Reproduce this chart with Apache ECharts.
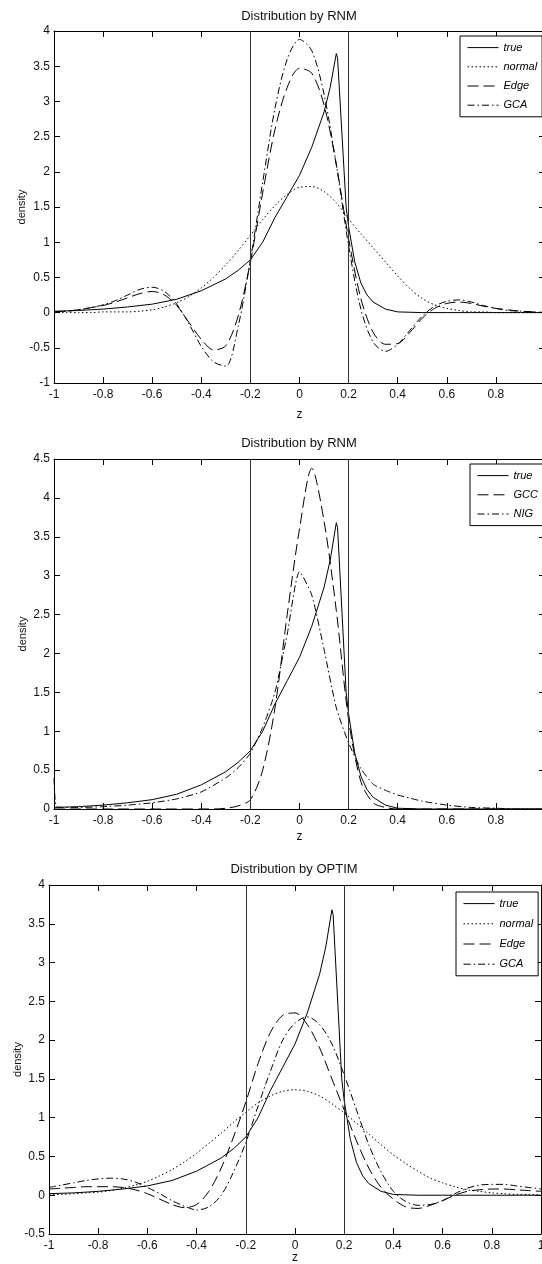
<!DOCTYPE html>
<html>
<head>
<meta charset="utf-8">
<script src="https://cdn.jsdelivr.net/npm/echarts@6/dist/echarts.min.js"></script>
<style>
html,body{margin:0;padding:0;background:#fff;}
#chart{width:542px;height:1264px;}
</style>
</head>
<body>
<div id="chart"></div>
<script>
// ---------- data ----------
const titles = ['Distribution by RNM', 'Distribution by RNM', 'Distribution by OPTIM'];
const vLines = [-0.2, 0.2];

const zGrid = [-1, -0.95, -0.9, -0.85, -0.8, -0.75, -0.7, -0.65, -0.6, -0.55, -0.5, -0.45, -0.4, -0.35, -0.3, -0.25, -0.2, -0.15, -0.1, -0.05, 0,
  0.05, 0.1, 0.15, 0.2, 0.25, 0.3, 0.35, 0.4, 0.45, 0.5, 0.55, 0.6, 0.65, 0.7, 0.75, 0.8, 0.85, 0.9, 0.95, 1];

const zTrue = [-1, -0.9, -0.8, -0.7, -0.6, -0.5, -0.4, -0.3, -0.25, -0.2, -0.15, -0.1, -0.05, 0, 0.05, 0.1, 0.125, 0.15, 0.155,
  0.19, 0.2, 0.225, 0.25, 0.275, 0.3, 0.35, 0.4, 0.5, 0.6, 0.7, 0.8, 0.9, 1];
const trueDensity = [0.02, 0.03, 0.05, 0.08, 0.12, 0.19, 0.31, 0.48, 0.6, 0.75, 1.0, 1.35, 1.65, 1.95, 2.35, 2.85, 3.2, 3.68, 3.62,
  1.5, 1.22, 0.72, 0.42, 0.25, 0.15, 0.05, 0.01, 0, 0, 0, 0, 0, 0];

// plot 1 (RNM)
const rnmNormal = [0, 0, 0, 0, 0.01, 0.01, 0.01, 0.02, 0.04, 0.08, 0.14, 0.23, 0.35, 0.5, 0.68, 0.88, 1.1, 1.32, 1.52, 1.68, 1.78,
  1.79, 1.72, 1.56, 1.33, 1.12, 0.92, 0.72, 0.52, 0.34, 0.2, 0.11, 0.06, 0.03, 0.01, 0.01, 0, 0, 0, 0, 0];
const rnmEdge = [0.01, 0.02, 0.04, 0.07, 0.1, 0.15, 0.21, 0.27, 0.3, 0.25, 0.1, -0.14, -0.38, -0.53, -0.47, -0.05, 0.72, 1.7, 2.6, 3.2, 3.47,
  3.4, 2.95, 2.1, 1.05, 0.2, -0.28, -0.45, -0.44, -0.28, -0.08, 0.06, 0.13, 0.15, 0.13, 0.09, 0.06, 0.04, 0.02, 0.01, 0];
const rnmGCA = [0.01, 0.02, 0.04, 0.07, 0.11, 0.17, 0.25, 0.33, 0.36, 0.3, 0.12, -0.16, -0.48, -0.7, -0.76, -0.2, 0.75, 1.85, 2.9, 3.6, 3.88,
  3.72, 3.1, 2.1, 0.95, 0.05, -0.42, -0.55, -0.45, -0.25, -0.05, 0.09, 0.16, 0.18, 0.15, 0.1, 0.06, 0.03, 0.02, 0.01, 0];

// plot 2 (RNM)
const rnmGCC = [0, 0, 0, 0, 0, 0, 0, 0, 0, 0, 0, 0, 0, 0, 0.01, 0.04, 0.12, 0.5, 1.3, 2.5, 3.6,
  4.38, 3.7, 2.55, 1.15, 0.35, 0.08, 0.02, 0, 0, 0, 0, 0, 0, 0, 0, 0, 0, 0, 0, 0];
const zNIG = [-1, -0.99, -0.95, -0.9, -0.8, -0.7, -0.6, -0.5, -0.4, -0.3, -0.25, -0.2, -0.15, -0.1, -0.05, 0,
  0.05, 0.1, 0.15, 0.2, 0.25, 0.3, 0.35, 0.4, 0.45, 0.5, 0.6, 0.7, 0.8, 0.9, 1];
const rnmNIG = [0.4, 0.03, 0.02, 0.02, 0.03, 0.05, 0.08, 0.13, 0.22, 0.4, 0.53, 0.72, 1.05, 1.5, 2.25, 3.05,
  2.75, 2.05, 1.3, 0.85, 0.52, 0.32, 0.24, 0.18, 0.14, 0.1, 0.05, 0.02, 0.01, 0, 0];

// plot 3 (OPTIM)
const optNormal = [0.01, 0.01, 0.02, 0.03, 0.04, 0.06, 0.09, 0.13, 0.18, 0.25, 0.33, 0.43, 0.54, 0.67, 0.8, 0.94, 1.07, 1.19, 1.28, 1.34, 1.36,
  1.34, 1.28, 1.18, 1.06, 0.93, 0.79, 0.65, 0.52, 0.41, 0.31, 0.22, 0.16, 0.11, 0.07, 0.05, 0.03, 0.02, 0.01, 0.01, 0];
const optEdge = [0.08, 0.09, 0.1, 0.11, 0.11, 0.11, 0.1, 0.07, 0.02, -0.05, -0.12, -0.16, -0.12, 0.05, 0.35, 0.75, 1.2, 1.7, 2.1, 2.32, 2.35,
  2.2, 1.9, 1.5, 1.1, 0.7, 0.35, 0.1, -0.05, -0.15, -0.17, -0.13, -0.07, 0, 0.05, 0.07, 0.08, 0.08, 0.07, 0.06, 0.05];
const optGCA = [0.1, 0.13, 0.16, 0.19, 0.21, 0.22, 0.21, 0.17, 0.1, 0.02, -0.07, -0.14, -0.19, -0.15, 0, 0.3, 0.68, 1.15, 1.6, 2.0, 2.22,
  2.3, 2.2, 1.95, 1.55, 1.1, 0.65, 0.3, 0.05, -0.08, -0.13, -0.12, -0.07, 0.02, 0.09, 0.13, 0.14, 0.14, 0.12, 0.1, 0.08];

const yRanges = [[-1, 4], [0, 4.5], [-0.5, 4]];

// ---------- styles ----------
const FONT = "'Liberation Sans', Arial, sans-serif";
const DASH = {
  solid: 'solid',
  dotted: [1.5, 2.5],
  dashed: [11, 5],
  dashdot: [7, 3, 1.5, 3]
};

const grids = [
  {left: 54, right: -3, top: 31, height: 352, containLabel: false, outerBoundsMode: 'none'},
  {left: 54, right: -3, top: 459, height: 350, containLabel: false, outerBoundsMode: 'none'},
  {left: 49, right: 1, top: 885, height: 349, containLabel: false, outerBoundsMode: 'none'}
];
const titleTops = [10, 437, 863];
const titleX = [299, 299, 294];
const xNameGap = [26, 22, 18];
const yNameGap = [27, 26, 26];

function pairs(zs, vs) { return zs.map((z, i) => [z, vs[i]]); }

const xAxes = [], yAxes = [], titleOpts = [];
grids.forEach((g, i) => {
  const lineCommon = {show: true, onZero: false, lineStyle: {color: '#000', width: 1}};
  const tickCommon = {show: true, inside: true, length: 6, lineStyle: {color: '#000', width: 1}};
  xAxes.push({
    type: 'value', gridIndex: i, position: 'bottom', min: -1, max: 1, interval: 0.2,
    axisLine: lineCommon, axisTick: tickCommon, splitLine: {show: false},
    axisLabel: {color: '#111', fontSize: 12, fontFamily: FONT, margin: 6},
    name: 'z', nameLocation: 'middle', nameGap: xNameGap[i], nameMoveOverlap: false,
    nameTextStyle: {color: '#111', fontSize: 12, fontFamily: FONT}
  });
  xAxes.push({
    type: 'value', gridIndex: i, position: 'top', min: -1, max: 1, interval: 0.2,
    axisLine: lineCommon, axisTick: tickCommon, splitLine: {show: false}, axisLabel: {show: false}
  });
  yAxes.push({
    type: 'value', gridIndex: i, position: 'left', min: yRanges[i][0], max: yRanges[i][1], interval: 0.5,
    axisLine: lineCommon, axisTick: tickCommon, splitLine: {show: false},
    axisLabel: {color: '#111', fontSize: 12, fontFamily: FONT, margin: 4},
    name: 'density', nameLocation: 'middle', nameGap: yNameGap[i], nameMoveOverlap: false,
    nameTextStyle: {color: '#111', fontSize: 11, fontFamily: FONT}
  });
  yAxes.push({
    type: 'value', gridIndex: i, position: 'right', min: yRanges[i][0], max: yRanges[i][1], interval: 0.5,
    axisLine: lineCommon, axisTick: tickCommon, splitLine: {show: false}, axisLabel: {show: false}
  });
  titleOpts.push({
    text: titles[i], left: titleX[i], top: titleTops[i], textAlign: 'center', padding: 0,
    textStyle: {color: '#111', fontSize: 13, fontWeight: 'normal', fontFamily: FONT}
  });
});

function mkSeries(name, zs, vs, gi, dash, smooth, withLines) {
  const s = {
    name: name, type: 'line', xAxisIndex: gi * 2, yAxisIndex: gi * 2,
    data: pairs(zs, vs), symbol: 'none', showSymbol: false, smooth: smooth,
    lineStyle: {color: '#000', width: 1, type: dash}, itemStyle: {color: '#000'},
    animation: false, silent: true, clip: true
  };
  if (withLines) {
    s.markLine = {
      silent: true, symbol: ['none', 'none'], label: {show: false}, animation: false,
      lineStyle: {color: '#333', width: 1, type: 'solid'},
      data: vLines.map(v => ({xAxis: v}))
    };
  }
  return s;
}

const series = [
  mkSeries('true', zTrue, trueDensity, 0, DASH.solid, false, true),
  mkSeries('normal', zGrid, rnmNormal, 0, DASH.dotted, 0.3),
  mkSeries('Edge', zGrid, rnmEdge, 0, DASH.dashed, 0.3),
  mkSeries('GCA', zGrid, rnmGCA, 0, DASH.dashdot, 0.3),

  mkSeries('true', zTrue, trueDensity, 1, DASH.solid, false, true),
  mkSeries('GCC', zGrid, rnmGCC, 1, DASH.dashed, 0.3),
  mkSeries('NIG', zNIG, rnmNIG, 1, DASH.dashdot, 0.2),

  mkSeries('true', zTrue, trueDensity, 2, DASH.solid, false, true),
  mkSeries('normal', zGrid, optNormal, 2, DASH.dotted, 0.3),
  mkSeries('Edge', zGrid, optEdge, 2, DASH.dashed, 0.3),
  mkSeries('GCA', zGrid, optGCA, 2, DASH.dashdot, 0.3)
];

function mkLegend(names, left, top, gap) {
  return {
    data: names, orient: 'vertical', left: left, top: top, selectedMode: false,
    itemWidth: 31, itemHeight: 14, itemGap: gap, padding: [6, 5, 6, 7],
    backgroundColor: '#fff', borderColor: '#000', borderWidth: 1, borderRadius: 0,
    itemStyle: {opacity: 0},
    lineStyle: {width: 1},
    textStyle: {color: '#000', fontSize: 11, fontStyle: 'italic', fontFamily: FONT}
  };
}

const option = {
  backgroundColor: '#fff',
  animation: false,
  title: titleOpts,
  grid: grids,
  xAxis: xAxes,
  yAxis: yAxes,
  legend: [
    mkLegend(['true', 'normal', 'Edge', 'GCA'], 460, 36, 8),
    mkLegend(['true', 'GCC', 'NIG'], 470, 464, 8),
    mkLegend(['true', 'normal', 'Edge', 'GCA'], 456, 892, 9)
  ],
  series: series
};

const chart = echarts.init(document.getElementById('chart'), null, {renderer: 'canvas'});
chart.setOption(option);
</script>
</body>
</html>
